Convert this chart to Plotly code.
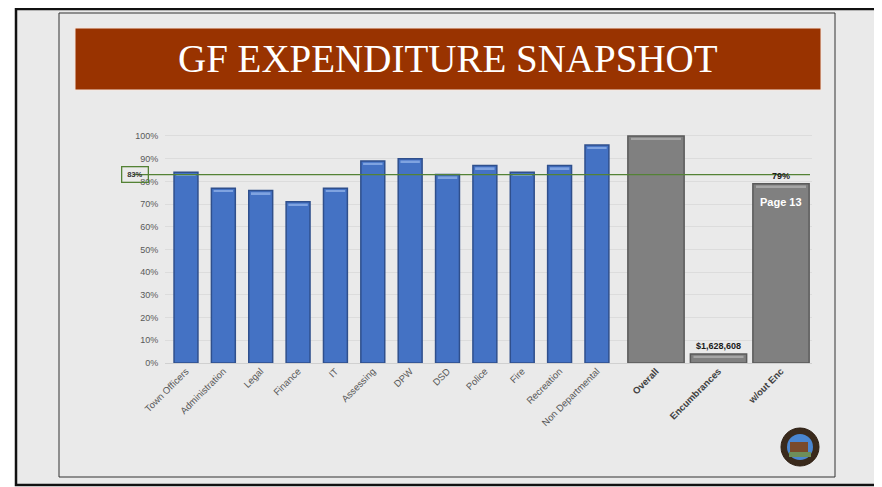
import plotly.graph_objects as go

# --- data ---
dept_names = ["Town Officers", "Administration", "Legal", "Finance", "IT", "Assessing",
              "DPW", "DSD", "Police", "Fire", "Recreation", "Non Departmental"]
dept_pct = [0.84, 0.77, 0.76, 0.71, 0.77, 0.89, 0.90, 0.83, 0.87, 0.84, 0.87, 0.96]

total_names = ["Overall", "Encumbrances", "w/out Enc"]
total_pct = [1.00, 0.04, 0.79]
total_labels = ["", "$1,628,608", "79%"]

target_pct = 0.83
y_ticks = [i / 10 for i in range(11)]

# the page body adds an 8px margin, so the figure is drawn from (8, 8)
OFF = 8
W, H = 882 - OFF, 487 - OFF
px = lambda v: (v - OFF) / W          # screen pixel -> paper x
py = lambda v: 1 - (v - OFF) / H      # screen pixel -> paper y

BLUE = "#4472C4"
BLUE_EDGE = "#2F4F8C"
GREY = "#808080"
GREY_EDGE = "#5A5A5A"
GREEN = "#548235"
AXIS_TXT = "#595959"

fig = go.Figure()

# blue department bars
fig.add_trace(go.Bar(
    x=dept_names, y=dept_pct, width=0.64,
    marker=dict(color=BLUE, line=dict(color=BLUE_EDGE, width=1.5)),
    xaxis="x", yaxis="y", showlegend=False, hoverinfo="x+y"
))
# thin highlight strip at the top of each bar (bevel look)
fig.add_trace(go.Bar(
    x=dept_names, y=[0.008] * len(dept_pct), base=[v - 0.016 for v in dept_pct], width=0.52,
    marker=dict(color="#7FA3E0", line=dict(width=0)),
    xaxis="x", yaxis="y", showlegend=False, hoverinfo="skip"
))

# grey total bars
fig.add_trace(go.Bar(
    x=total_names, y=total_pct, width=0.9,
    marker=dict(color=GREY, line=dict(color=GREY_EDGE, width=1.5)),
    xaxis="x2", yaxis="y", showlegend=False, hoverinfo="x+y"
))
fig.add_trace(go.Bar(
    x=total_names, y=[0.008] * len(total_pct), base=[v - 0.016 for v in total_pct], width=0.8,
    marker=dict(color="#A6A6A6", line=dict(width=0)),
    xaxis="x2", yaxis="y", showlegend=False, hoverinfo="skip"
))

# --- annotations on the grey bars ---
for name, val, lab in zip(total_names, total_pct, total_labels):
    if lab:
        fig.add_annotation(x=name, y=val, xref="x2", yref="y", text=f"<b>{lab}</b>",
                           showarrow=False, yanchor="bottom", yshift=1,
                           font=dict(family="Liberation Sans", size=9, color="#1a1a1a"))
fig.add_annotation(x=total_names[2], y=total_pct[2], xref="x2", yref="y", text="<b>Page 13</b>",
                   showarrow=False, yanchor="top", yshift=-10,
                   font=dict(family="Liberation Sans", size=11, color="white"))

# target line + label box
fig.add_shape(type="line", xref="paper", yref="y", x0=px(134), x1=px(810),
              y0=target_pct, y1=target_pct, line=dict(color=GREEN, width=1.2), layer="above")
fig.add_annotation(x=px(121), y=target_pct, xref="paper", yref="y",
                   text=f"<b>{round(target_pct * 100)}%</b>", showarrow=False,
                   font=dict(family="Liberation Sans", size=7.5, color="#333333"),
                   bordercolor=GREEN, borderwidth=1.3, borderpad=1, width=23, height=12,
                   bgcolor="rgba(0,0,0,0)")

# --- slide decoration ---
shapes = [
    dict(type="rect", xref="paper", yref="paper", x0=px(16), x1=px(877), y0=py(485), y1=py(9),
         fillcolor="#EAEAEA", line=dict(color="#111111", width=2.5), layer="below"),
    dict(type="rect", xref="paper", yref="paper", x0=px(59), x1=px(835), y0=py(477), y1=py(13),
         fillcolor="rgba(0,0,0,0)", line=dict(color="#333333", width=1), layer="below"),
    dict(type="rect", xref="paper", yref="paper", x0=px(75), x1=px(821), y0=py(90), y1=py(28),
         fillcolor="#993300", line=dict(color="#F5E6DE", width=1), layer="below"),
    # seal / logo
    dict(type="circle", xref="paper", yref="paper", x0=px(781), x1=px(819), y0=py(466), y1=py(428),
         fillcolor="#3A2A1C", line=dict(color="#2A1C10", width=1), layer="above"),
    dict(type="circle", xref="paper", yref="paper", x0=px(787), x1=px(813), y0=py(460), y1=py(434),
         fillcolor="#4A86D0", line=dict(width=0), layer="above"),
    dict(type="rect", xref="paper", yref="paper", x0=px(790), x1=px(808), y0=py(452), y1=py(442),
         fillcolor="#7A4A2A", line=dict(width=0), layer="above"),
    dict(type="rect", xref="paper", yref="paper", x0=px(789), x1=px(811), y0=py(457), y1=py(452),
         fillcolor="#6E8E5A", line=dict(width=0), layer="above"),
]
for s in shapes:
    fig.add_shape(**s)

fig.add_annotation(x=px(448), y=py(58), xref="paper", yref="paper",
                   xanchor="center", yanchor="middle",
                   text="GF EXPENDITURE SNAPSHOT", showarrow=False,
                   font=dict(family="Liberation Serif", size=39, color="white"))

# --- layout / axes ---
tick_font = dict(family="Liberation Sans", size=9.5, color=AXIS_TXT)
n_blue = len(dept_names)
fig.update_layout(
    template="none",
    width=W, height=H,
    margin=dict(l=0, r=0, t=0, b=0, pad=0),
    paper_bgcolor="white",
    plot_bgcolor="rgba(0,0,0,0)",
    barmode="overlay",
    showlegend=False,
    xaxis=dict(domain=[px(165), px(620)], range=[-0.562, n_blue - 1 + 0.617],
               tickangle=-45, tickfont=tick_font, showgrid=False, showline=False,
               zeroline=False, ticks="", anchor="y", automargin=False),
    xaxis2=dict(domain=[px(620), px(812)], range=[-0.576, 2.496],
                tickangle=-45, tickfont=dict(family="Liberation Sans", size=9.5, color="#404040",
                                             weight="bold"),
                showgrid=False, showline=False, zeroline=False, ticks="", anchor="y",
                automargin=False),
    yaxis=dict(domain=[py(363), py(131)], range=[0, 1.022], tickvals=y_ticks,
               tickformat=".0%", tickfont=dict(family="Liberation Sans", size=9, color=AXIS_TXT),
               showgrid=True, gridcolor="#DCDCDC", gridwidth=1, zeroline=True,
               zerolinecolor="#D0D0D0", showline=False, ticks="outside", ticklen=4,
               tickcolor="rgba(0,0,0,0)", automargin=False),
)

fig.write_html("out.html")
